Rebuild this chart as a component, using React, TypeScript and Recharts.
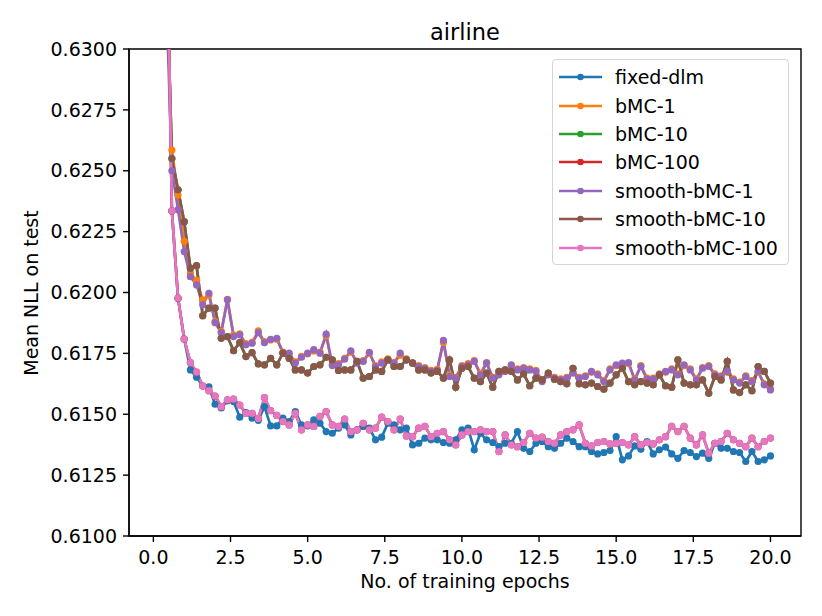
import { LineChart, Line, XAxis, YAxis, ReferenceArea } from "recharts";

// x grid: one evaluation every 0.2 epochs, 0.2 .. 20.0
const EPOCHS = Array.from({ length: 100 }, (_, i) => Number(((i + 1) * 0.2).toFixed(1)));

const FIXED_DLM = [
  0.662, 0.638, 0.62335, 0.61975, 0.61809, 0.61682, 0.61652, 0.61616, 0.61613, 0.61541,
  0.61526, 0.61555, 0.61552, 0.61488, 0.61507, 0.61484, 0.61475, 0.61531, 0.61452, 0.61452,
  0.61484, 0.6147, 0.61511, 0.61456, 0.61452, 0.61477, 0.61463, 0.61429, 0.61422, 0.61443,
  0.61456, 0.61415, 0.61436, 0.6145, 0.61443, 0.61395, 0.61406, 0.61463, 0.61456, 0.61436,
  0.61443, 0.61374, 0.61381, 0.61402, 0.61395, 0.61395, 0.61384, 0.61381, 0.61395, 0.61436,
  0.61443, 0.61354, 0.61422, 0.61395, 0.61384, 0.61367, 0.61381, 0.61381, 0.61429, 0.6136,
  0.61347, 0.61381, 0.61388, 0.61367, 0.6136, 0.61381, 0.61402, 0.61388, 0.61367, 0.61367,
  0.61347, 0.61337, 0.61343, 0.61351, 0.61408, 0.61313, 0.61329, 0.6137, 0.61356, 0.61388,
  0.61337, 0.61354, 0.61365, 0.61337, 0.61319, 0.61351, 0.61343, 0.61326, 0.6134, 0.61319,
  0.61381, 0.6136, 0.6136, 0.61347, 0.61343, 0.61306, 0.61347, 0.61306, 0.61313, 0.61329,
];

const BMC_1 = [
  0.671, 0.6335, 0.62585, 0.624, 0.6221, 0.6208, 0.6205, 0.6197, 0.6199, 0.6188,
  0.6184, 0.61972, 0.61825, 0.6183, 0.6179, 0.61795, 0.61842, 0.61798, 0.61805, 0.61808,
  0.61755, 0.61745, 0.61715, 0.61738, 0.61748, 0.6176, 0.61755, 0.61822, 0.61705, 0.61708,
  0.6173, 0.61755, 0.61715, 0.6172, 0.6175, 0.617, 0.61715, 0.61728, 0.61712, 0.61742,
  0.61728, 0.61712, 0.617, 0.61692, 0.6168, 0.61684, 0.61795, 0.6166, 0.61652, 0.617,
  0.61708, 0.6172, 0.61668, 0.61712, 0.61652, 0.61668, 0.6168, 0.617, 0.61686, 0.61692,
  0.61686, 0.6168, 0.61638, 0.61666, 0.61652, 0.61645, 0.61652, 0.61672, 0.61652, 0.61658,
  0.61672, 0.61666, 0.61638, 0.61686, 0.617, 0.61706, 0.61708, 0.61645, 0.617, 0.61648,
  0.61648, 0.61666, 0.61672, 0.61686, 0.61666, 0.617, 0.61686, 0.61645, 0.61692, 0.617,
  0.61666, 0.61658, 0.61672, 0.61645, 0.61632, 0.61658, 0.61638, 0.61672, 0.61625, 0.61605,
];

const SMOOTH_BMC_1 = [
  0.67, 0.633, 0.625, 0.6234, 0.62168, 0.62065, 0.62031, 0.6195, 0.61997, 0.61876,
  0.61835, 0.6197, 0.61819, 0.61826, 0.61785, 0.61792, 0.61835, 0.61794, 0.61808, 0.61812,
  0.61751, 0.61751, 0.6171, 0.61734, 0.61751, 0.61765, 0.61751, 0.61829, 0.617, 0.61703,
  0.61726, 0.6176, 0.6171, 0.61717, 0.61754, 0.61696, 0.6171, 0.61723, 0.6171, 0.61751,
  0.61723, 0.6171, 0.61696, 0.61689, 0.61676, 0.6168, 0.61803, 0.61655, 0.61648, 0.61696,
  0.61703, 0.61717, 0.61662, 0.6171, 0.61648, 0.61662, 0.61676, 0.61703, 0.61682, 0.61689,
  0.61682, 0.61676, 0.61634, 0.61662, 0.61648, 0.61641, 0.61648, 0.61669, 0.61648, 0.61655,
  0.61676, 0.61662, 0.61634, 0.61682, 0.61703, 0.6171, 0.61712, 0.61641, 0.61696, 0.61644,
  0.61644, 0.61662, 0.61676, 0.61682, 0.61662, 0.61703, 0.61682, 0.61641, 0.61689, 0.61696,
  0.61662, 0.61655, 0.61676, 0.61641, 0.61628, 0.61655, 0.61634, 0.61676, 0.61621, 0.616,
];

const SMOOTH_BMC_10 = [
  0.668, 0.6345, 0.6255, 0.62422, 0.62291, 0.621, 0.6211, 0.61905, 0.61936, 0.61936,
  0.61812, 0.61819, 0.61761, 0.61794, 0.61737, 0.61753, 0.61707, 0.61703, 0.6173, 0.61703,
  0.61751, 0.6173, 0.61682, 0.61682, 0.61669, 0.61696, 0.61703, 0.61734, 0.61723, 0.6168,
  0.61682, 0.61682, 0.61717, 0.61648, 0.61655, 0.61682, 0.61676, 0.61723, 0.61696, 0.61696,
  0.61723, 0.6171, 0.61682, 0.61682, 0.61669, 0.61676, 0.61648, 0.61723, 0.61611, 0.61689,
  0.61696, 0.61648, 0.61634, 0.61669, 0.61611, 0.61676, 0.61682, 0.61676, 0.61641, 0.61666,
  0.61617, 0.61648, 0.61641, 0.61669, 0.61644, 0.61634, 0.61625, 0.61689, 0.61625, 0.61621,
  0.61628, 0.61614, 0.61603, 0.61628, 0.61662, 0.61689, 0.61634, 0.61621, 0.61634, 0.61628,
  0.61621, 0.61662, 0.61617, 0.61611, 0.61723, 0.61628, 0.61621, 0.61621, 0.61641, 0.61586,
  0.61655, 0.61641, 0.61717, 0.616, 0.61589, 0.61621, 0.61597, 0.61696, 0.61676, 0.61628,
];

const SMOOTH_BMC_100 = [
  0.664, 0.6385, 0.62335, 0.61977, 0.61809, 0.61712, 0.61673, 0.61616, 0.61597, 0.61575,
  0.61531, 0.61559, 0.61562, 0.61538, 0.61504, 0.61504, 0.61483, 0.61568, 0.61515, 0.61495,
  0.6147, 0.61456, 0.61504, 0.61436, 0.61456, 0.6145, 0.61491, 0.61511, 0.61456, 0.6145,
  0.6148, 0.61429, 0.61436, 0.61463, 0.61436, 0.61443, 0.61488, 0.6147, 0.61436, 0.6148,
  0.61411, 0.61408, 0.61443, 0.6145, 0.61408, 0.61422, 0.61429, 0.61395, 0.61374, 0.61415,
  0.61429, 0.61429, 0.61436, 0.61429, 0.61429, 0.61347, 0.61415, 0.61374, 0.61367, 0.61384,
  0.61422, 0.61402, 0.61406, 0.61388, 0.61381, 0.61415, 0.61429, 0.61436, 0.61456, 0.61381,
  0.6137, 0.61384, 0.61388, 0.61378, 0.61381, 0.61384, 0.61374, 0.61408, 0.61374, 0.61384,
  0.61378, 0.61395, 0.61408, 0.6145, 0.61429, 0.6145, 0.61402, 0.61374, 0.61415, 0.6134,
  0.61381, 0.61388, 0.61422, 0.61395, 0.61381, 0.61367, 0.61402, 0.61367, 0.61388, 0.61402,
];

// bMC-10 / bMC-100 sit exactly under their smooth counterparts in the plot
const BMC_10 = SMOOTH_BMC_10;
const BMC_100 = SMOOTH_BMC_100;

const X_TICKS = [0, 2.5, 5, 7.5, 10, 12.5, 15, 17.5, 20];
const Y_TICKS = [0.61, 0.6125, 0.615, 0.6175, 0.62, 0.6225, 0.625, 0.6275, 0.63];

const SERIES = [
  { key: "fixedDlm", name: "fixed-dlm", color: "#1f77b4", values: FIXED_DLM },
  { key: "bmc1", name: "bMC-1", color: "#ff7f0e", values: BMC_1 },
  { key: "bmc10", name: "bMC-10", color: "#2ca02c", values: BMC_10 },
  { key: "bmc100", name: "bMC-100", color: "#d62728", values: BMC_100 },
  { key: "smooth1", name: "smooth-bMC-1", color: "#9467bd", values: SMOOTH_BMC_1 },
  { key: "smooth10", name: "smooth-bMC-10", color: "#8c564b", values: SMOOTH_BMC_10 },
  { key: "smooth100", name: "smooth-bMC-100", color: "#e377c2", values: SMOOTH_BMC_100 },
];

const data = EPOCHS.map((epoch, i) => {
  const row: Record<string, number> = { epoch };
  SERIES.forEach((s) => {
    row[s.key] = s.values[i];
  });
  return row;
});

const FONT = "'DejaVu Sans', sans-serif";
const tickStyle = { fill: "#000", fontSize: 19, fontFamily: FONT };

export default function App() {
  return (
    <div style={{ position: "relative", width: 806, height: 600, fontFamily: FONT }}>
      <LineChart
        width={806}
        height={600}
        data={data}
        margin={{ top: 41, right: 13, left: 0, bottom: 0 }}
      >
        <XAxis
          dataKey="epoch"
          type="number"
          domain={[-0.79, 20.99]}
          ticks={X_TICKS}
          tickFormatter={(v: number) => v.toFixed(1)}
          allowDataOverflow
          height={72}
          tick={tickStyle}
          tickSize={6}
          tickMargin={9}
          axisLine={{ stroke: "#000", strokeWidth: 1.4 }}
          tickLine={{ stroke: "#000", strokeWidth: 1.4 }}
        />
        <YAxis
          type="number"
          domain={[0.61, 0.63]}
          ticks={Y_TICKS}
          tickFormatter={(v: number) => v.toFixed(4)}
          allowDataOverflow
          width={121}
          tick={tickStyle}
          tickSize={6}
          tickMargin={6}
          axisLine={{ stroke: "#000", strokeWidth: 1.4 }}
          tickLine={{ stroke: "#000", strokeWidth: 1.4 }}
        />
        {SERIES.map((s) => (
          <Line
            key={s.key}
            dataKey={s.key}
            name={s.name}
            stroke={s.color}
            strokeWidth={2.7}
            dot={{ r: 3.6, fill: s.color, stroke: "none" }}
            activeDot={false}
            isAnimationActive={false}
          />
        ))}
        <ReferenceArea
          x1={-0.79}
          x2={20.99}
          y1={0.61}
          y2={0.63}
          fill="none"
          stroke="#000"
          strokeWidth={1.4}
          fillOpacity={0}
        />
      </LineChart>

      {/* title */}
      <div
        style={{
          position: "absolute",
          left: 121,
          width: 672,
          top: 10,
          textAlign: "center",
          fontSize: 22.5,
          lineHeight: "28px",
        }}
      >
        airline
      </div>

      {/* x label */}
      <div
        style={{
          position: "absolute",
          left: 121,
          width: 672,
          top: 560,
          textAlign: "center",
          fontSize: 19,
          lineHeight: "26px",
        }}
      >
        No. of training epochs
      </div>

      {/* y label */}
      <div
        style={{
          position: "absolute",
          left: 23,
          top: 284.5,
          width: 0,
          height: 0,
        }}
      >
        <div
          style={{
            position: "absolute",
            transform: "translate(-50%, -50%) rotate(-90deg)",
            whiteSpace: "nowrap",
            fontSize: 19,
            lineHeight: "24px",
          }}
        >
          Mean NLL on test
        </div>
      </div>

      {/* legend */}
      <div
        style={{
          position: "absolute",
          left: 544,
          top: 51,
          width: 237,
          height: 206,
          border: "1px solid #d5d5d5",
          borderRadius: 4,
          background: "rgba(255,255,255,0.8)",
          paddingTop: 3,
          boxSizing: "border-box",
        }}
      >
        {SERIES.map((s) => (
          <div
            key={s.key}
            style={{ display: "flex", alignItems: "center", height: 28.4, fontSize: 19 }}
          >
            <svg width={62} height={20} style={{ flex: "none" }}>
              <line x1={6} y1={10} x2={49} y2={10} stroke={s.color} strokeWidth={2.7} />
              <circle cx={27.5} cy={10} r={3.3} fill={s.color} />
            </svg>
            <span style={{ whiteSpace: "nowrap" }}>{s.name}</span>
          </div>
        ))}
      </div>
    </div>
  );
}
